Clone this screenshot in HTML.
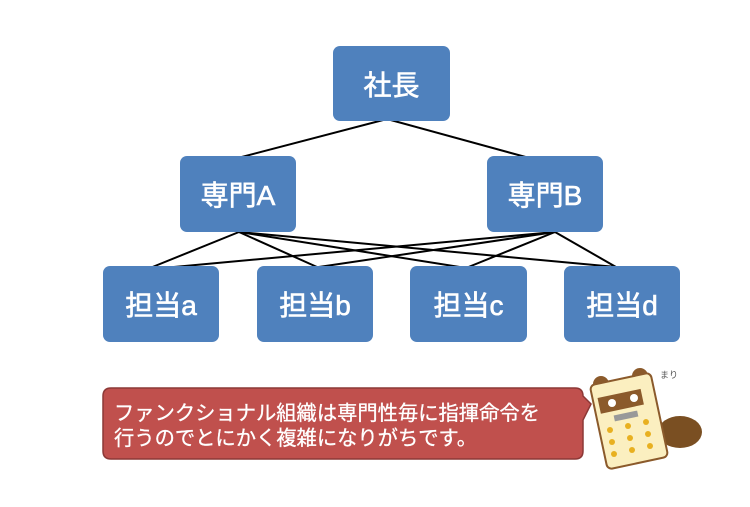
<!DOCTYPE html>
<html><head><meta charset="utf-8"><style>
body{margin:0;width:750px;height:507px;background:#fff;position:relative;overflow:hidden;font-family:"Liberation Sans","Noto Sans CJK JP",sans-serif}
.b{position:absolute;background:#4f81bd;border-radius:7px;color:#fff;font-size:28px;-webkit-text-stroke:0.6px #fff;display:flex;align-items:center;justify-content:center;width:116px;height:76px}
svg{position:absolute;left:0;top:0}
.t{position:absolute;left:114px;top:402px;color:#fff;font-size:20.3px;line-height:25px;white-space:nowrap;-webkit-text-stroke:0.3px #fff}
</style></head><body>
<svg width="750" height="507">
<g stroke="#000" stroke-width="2" fill="none">
<line x1="387" y1="119" x2="234" y2="159"/><line x1="387" y1="119" x2="533" y2="159"/>
<line x1="239" y1="232" x2="150" y2="268"/><line x1="239" y1="232" x2="317" y2="267"/>
<line x1="239" y1="232" x2="466" y2="268"/><line x1="239" y1="232" x2="616" y2="267"/>
<line x1="555" y1="232" x2="163" y2="268"/><line x1="555" y1="232" x2="312" y2="268"/>
<line x1="555" y1="232" x2="466" y2="268"/><line x1="555" y1="232" x2="616" y2="267"/>
</g>
<path d="M111 388 H575 Q583 388 583 396 L591 404 L583 420 V451 Q583 459 575 459 H111 Q103 459 103 451 V396 Q103 388 111 388 Z" fill="#c0504d" stroke="#8c3836" stroke-width="1.5"/>
<g>
<circle cx="601" cy="384" r="8" fill="#8b5a2b"/><circle cx="640" cy="376" r="8" fill="#8b5a2b"/>
<ellipse cx="680" cy="432" rx="22" ry="16" fill="#7a4f22"/>
<rect x="598" y="378" width="62" height="86" rx="5" fill="#fbefc0" stroke="#8b5a2b" stroke-width="2" transform="rotate(-12 629 421)"/>
<rect x="603" y="392" width="44" height="16" fill="#8b5a2b" transform="rotate(-12 629 421)"/>
<circle cx="612" cy="403" r="4" fill="#fff"/><circle cx="634" cy="398" r="4" fill="#fff"/>
<rect x="614" y="413" width="24" height="6" fill="#999" transform="rotate(-12 626 416)"/>
<g fill="#e8b020"><circle cx="610" cy="430" r="3"/><circle cx="628" cy="426" r="3"/><circle cx="646" cy="422" r="3"/>
<circle cx="612" cy="442" r="3"/><circle cx="630" cy="438" r="3"/><circle cx="648" cy="434" r="3"/>
<circle cx="614" cy="454" r="3"/><circle cx="632" cy="450" r="3"/><circle cx="650" cy="446" r="3"/></g>
<text x="660" y="378" font-size="9" fill="#555">まり</text>
</g>
</svg>
<div class="b" style="left:333px;top:46px;width:117px;height:75px">社長</div>
<div class="b" style="left:180px;top:156px">専門A</div>
<div class="b" style="left:487px;top:156px">専門B</div>
<div class="b" style="left:103px;top:266px">担当a</div>
<div class="b" style="left:257px;top:266px">担当b</div>
<div class="b" style="left:410px;top:266px;width:117px">担当c</div>
<div class="b" style="left:564px;top:266px">担当d</div>
<div class="t">ファンクショナル組織は専門性毎に指揮命令を<br>行うのでとにかく複雑になりがちです。</div>
</body></html>
